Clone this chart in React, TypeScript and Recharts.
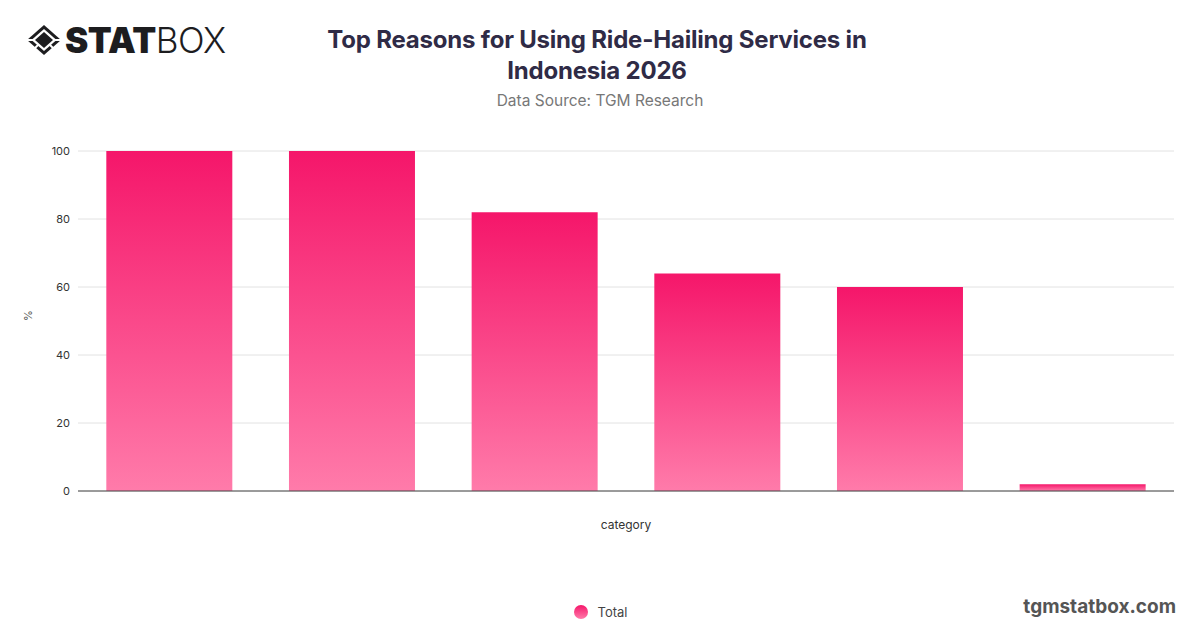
import React from 'react';
import { BarChart, Bar, XAxis, YAxis, CartesianGrid, Legend } from 'recharts';

const categories = ['Reason 1', 'Reason 2', 'Reason 3', 'Reason 4', 'Reason 5', 'Reason 6'];
const totalValues = [100, 100, 82, 64, 60, 2];
const yTicks = [0, 20, 40, 60, 80, 100];

const data = categories.map((c, i) => ({ category: c, Total: totalValues[i] }));

const FONT = 'Inter, "Noto Sans", Roboto, sans-serif';

const LegendContent = () => (
  <div style={{ display: 'flex', justifyContent: 'center', alignItems: 'center', fontFamily: FONT }}>
    <svg width={16} height={16} style={{ marginRight: 9 }}>
      <defs>
        <linearGradient id="legGrad" x1="0" y1="0" x2="0" y2="1">
          <stop offset="0%" stopColor="#F5166A" />
          <stop offset="100%" stopColor="#FF7BAA" />
        </linearGradient>
      </defs>
      <circle cx={8} cy={8} r={7} fill="url(#legGrad)" />
    </svg>
    <span style={{ fontSize: 13, color: '#444' }}>Total</span>
  </div>
);

const Logo = () => (
  <div style={{ position: 'absolute', left: 26, top: 22, display: 'flex', alignItems: 'center', height: 36 }}>
    <svg width={36} height={32} viewBox="0 0 36 32">
      <polygon points="18,1 35,16 18,31 1,16" fill="#1d1d1f" />
      <polygon points="18,5 30.5,16 18,27 5.5,16" fill="#fff" />
      <polygon points="18,8 27,16 18,24 9,16" fill="#1d1d1f" />
      <line x1="1" y1="16" x2="9" y2="16" stroke="#fff" strokeWidth="2" />
      <line x1="27" y1="16" x2="35" y2="16" stroke="#fff" strokeWidth="2" />
      <line x1="6" y1="27" x2="12" y2="21" stroke="#fff" strokeWidth="2" />
      <line x1="30" y1="27" x2="24" y2="21" stroke="#fff" strokeWidth="2" />
    </svg>
    <span style={{ fontFamily: FONT, fontWeight: 900, fontSize: 35, color: '#1d1d1f', marginLeft: 3, letterSpacing: -0.5, lineHeight: 1 }}>STAT</span>
    <span style={{ fontFamily: FONT, fontWeight: 300, fontSize: 35, color: '#1d1d1f', letterSpacing: -0.5, lineHeight: 1 }}>BOX</span>
  </div>
);

export default function App() {
  return (
    <div style={{ position: 'absolute', left: 0, top: 0, width: 1200, height: 628, background: '#fff', overflow: 'hidden' }}>
      <Logo />
      <div style={{ position: 'absolute', left: 297, top: 24, width: 600, textAlign: 'center', fontFamily: FONT, fontWeight: 700, fontSize: 24, lineHeight: '31px', color: '#2F2B46', letterSpacing: -0.2 }}>
        Top Reasons for Using Ride-Hailing Services in<br />Indonesia 2026
      </div>
      <div style={{ position: 'absolute', left: 300, top: 91, width: 600, textAlign: 'center', fontFamily: FONT, fontSize: 15.5, color: '#777' }}>
        Data Source: TGM Research
      </div>
      <div style={{ position: 'absolute', right: 24, top: 595, fontFamily: FONT, fontWeight: 700, fontSize: 19, color: '#555' }}>
        tgmstatbox.com
      </div>
      <BarChart
        width={1200}
        height={628}
        data={data}
        margin={{ top: 151, right: 26, bottom: 97, left: 0 }}
        barCategoryGap="15.5%"
        style={{ position: 'absolute', left: 0, top: 0 }}
      >
        <defs>
          <linearGradient id="barGrad" x1="0" y1="0" x2="0" y2="1">
            <stop offset="0%" stopColor="#F5166A" />
            <stop offset="100%" stopColor="#FF7BAA" />
          </linearGradient>
        </defs>
        <CartesianGrid vertical={false} stroke="#e2e2e2" />
        <XAxis
          dataKey="category"
          tick={false}
          tickLine={false}
          axisLine={{ stroke: '#444' }}
          height={40}
          label={{ value: 'category', position: 'insideBottom', offset: 2, fill: '#333', fontSize: 12, fontFamily: FONT }}
        />
        <YAxis
          width={78}
          domain={[0, 100]}
          ticks={yTicks}
          tickLine={false}
          axisLine={false}
          tick={{ fill: '#333', fontSize: 11, fontFamily: FONT }}
          label={{ value: '%', angle: -90, position: 'insideLeft', offset: 28, fill: '#555', fontSize: 11, fontFamily: FONT }}
        />
        <Legend
          verticalAlign="middle"
          align="center"
          layout="horizontal"
          content={<LegendContent />}
          wrapperStyle={{ top: 604, left: 0, width: 1200 }}
        />
        <Bar dataKey="Total" fill="url(#barGrad)" isAnimationActive={false} />
      </BarChart>
    </div>
  );
}
